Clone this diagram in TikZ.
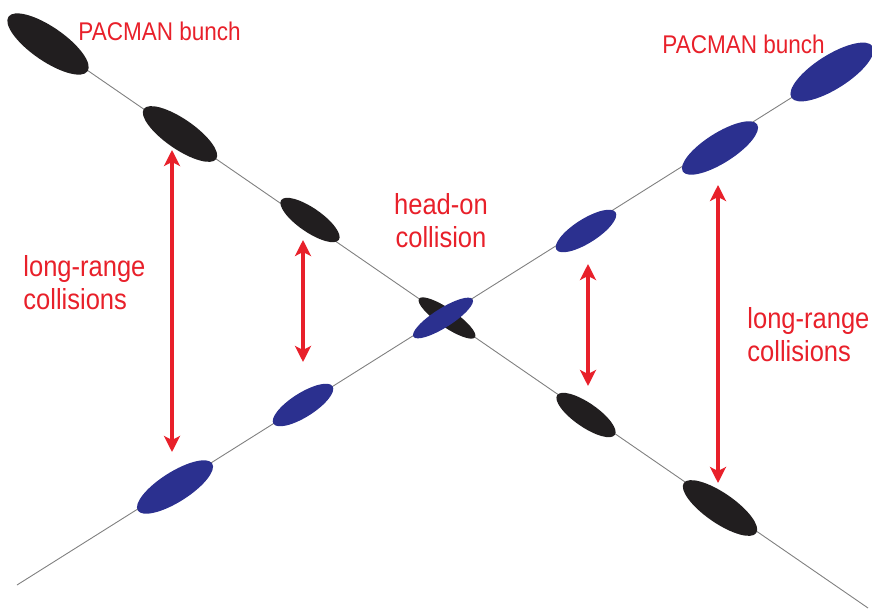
\documentclass[tikz,border=0pt]{standalone}
\usepackage{fontspec}
\newfontfamily\labelfont[FakeStretch=0.88]{Liberation Sans}
\usetikzlibrary{shapes.geometric,arrows.meta}

\definecolor{pacred}{RGB}{232,32,42}
\definecolor{beamblue}{RGB}{43,48,143}
\definecolor{bunchblack}{RGB}{33,30,31}

\tikzset{
  bunch/.style={ellipse, inner sep=0pt, draw=none},
  beamline/.style={gray, line width=0.45pt},
  lrarrow/.style={pacred, line width=1.8pt,
    {Stealth[length=8pt,width=8pt,inset=2pt]}-{Stealth[length=8pt,width=8pt,inset=2pt]}},
  lbl/.style={pacred, inner sep=0pt,
    font=\labelfont\fontsize{14.5}{16.5}\selectfont},
  paclbl/.style={lbl, font=\labelfont\fontsize{12.8}{15}\selectfont}
}

\begin{document}
\begin{tikzpicture}[x=0.5pt, y=-0.5pt]
  \useasboundingbox (0,0) rectangle (872,609);
  % beam lines
  \coordinate (bkstart) at (10,17);
  \coordinate (bkend) at (868,608);
  \coordinate (blstart) at (17,585);
  \coordinate (blend) at (872,47);
  \draw[beamline] (bkstart) -- (bkend);
  \draw[beamline] (blstart) -- (blend);
  % black bunches
  \foreach \n/\x/\y/\l/\w in {1/48/44/48/17, 2/180/134/44/15, 3/310/220/35/12,
                              0/447/318/34/9, 5/586/415/35/12, 6/720/508/44/15} {
    \node[bunch, fill=bunchblack, rotate=-34.6, minimum width=\l pt, minimum height=\w pt]
      (bk\n) at (\x,\y) {};
  }
  % blue bunches
  \foreach \n/\x/\y/\l/\w in {1/832/72/48/17, 2/720/148/44/15, 3/586/231/35/12,
                              0/443/318/35/9.5, 5/303/405/35/12, 6/175/487/44/15} {
    \node[bunch, fill=beamblue, rotate=32.3, minimum width=\l pt, minimum height=\w pt]
      (bl\n) at (\x,\y) {};
  }
  % long-range arrows
  \foreach \i/\x/\ya/\yb in {1/172/150/452, 2/303/240/362, 3/588/264/386, 4/718/185/483} {
    \coordinate (lrtop\i) at (\x,\ya);
    \coordinate (lrbot\i) at (\x,\yb);
    \draw[lrarrow] (lrtop\i) -- (lrbot\i);
  }
  % labels
  \node[paclbl, anchor=north west] (pacleft) at (78,22) {PACMAN bunch};
  \node[paclbl, anchor=north west] (pacright) at (662,35) {PACMAN bunch};
  \node[lbl, anchor=north, align=center] (headon) at (441,193) {head-on\\collision};
  \node[lbl, anchor=north west, align=left] (lrleft) at (23,255) {long-range\\collisions};
  \node[lbl, anchor=north west, align=left] (lrright) at (747,307) {long-range\\collisions};
\end{tikzpicture}
\end{document}
